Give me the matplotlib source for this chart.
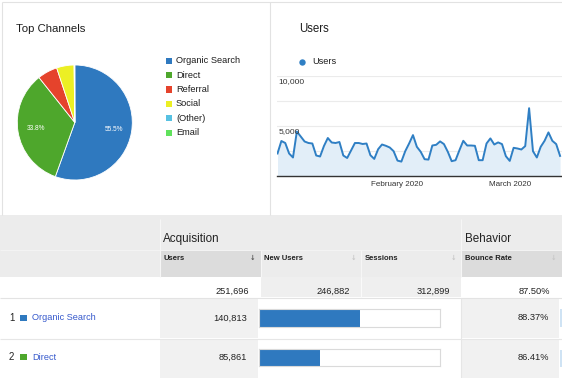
import matplotlib
matplotlib.use('Agg')
import matplotlib.pyplot as plt
import matplotlib.dates as mdates
from matplotlib.patches import Rectangle
import pandas as pd

plt.rcParams['font.family'] = ['Liberation Sans', 'DejaVu Sans']

W, H = 562, 378

# ---------------- data ----------------
channels = ['Organic Search', 'Direct', 'Referral', 'Social', '(Other)', 'Email']
channel_share = [55.5, 33.8, 5.6, 4.9, 0.15, 0.05]
channel_colors = ['#2f79bf', '#4ea72c', '#e5432c', '#ecef24', '#57c1e2', '#60e25c']

start_date = '2020-01-01'
daily_users = [2250, 3500, 3300, 2250, 1850, 4450, 3950, 3450, 3300, 3250,
               2050, 1950, 3000, 3800, 3350, 3300, 3400, 2050, 1800, 2550,
               3300, 3300, 3200, 3250, 2080, 1710, 2680, 3150, 3020, 2850,
               2480, 1540, 1440, 2480, 3250, 4090, 2920, 2420, 1680, 1640,
               3050, 3120, 3460, 3190, 2420, 1480, 1580, 2580, 3520, 3050,
               3050, 3020, 1580, 1580, 3250, 3760, 3150, 3360, 3190, 1980,
               1510, 2820, 2750, 2650, 2990, 6780, 2480, 1850, 2920, 3520,
               4360, 3520, 3190, 2010]
y_ticks = [0, 2500, 5000, 7500, 10000]
y_tick_labels = {5000: '5,000', 10000: '10,000'}
x_tick_dates = ['2020-02-01', '2020-03-01']

table_groups = ['Acquisition', 'Behavior']
table_columns = ['Users', 'New Users', 'Sessions', 'Bounce Rate']
table_totals = ['251,696', '246,882', '312,899', '87.50%']
row_channels = ['Organic Search', 'Direct']
row_users = [140813, 85861]
row_new_users_pct = [55.7, 33.6]
row_bounce = [88.37, 86.41]

# ---------------- figure ----------------
fig = plt.figure(figsize=(W / 100, H / 100), dpi=100)
fig.patch.set_facecolor('white')


def fa(x0, y0, x1, y1):
    return [x0 / W, 1 - y1 / H, (x1 - x0) / W, (y1 - y0) / H]


bg = fig.add_axes([0, 0, 1, 1], zorder=0)
bg.set_xlim(0, W)
bg.set_ylim(H, 0)
bg.axis('off')


def rect(x0, y0, x1, y1, color):
    bg.add_patch(Rectangle((x0, y0), x1 - x0, y1 - y0, facecolor=color, lw=0))


def hline(y, x0, x1, color, lw=0.8):
    bg.plot([x0, x1], [y, y], color=color, lw=lw, solid_capstyle='butt')


def vline(x, y0, y1, color, lw=0.8):
    bg.plot([x, x], [y0, y1], color=color, lw=lw, solid_capstyle='butt')


TXT = '#222222'

# top panels borders
border = '#e2e2e2'
hline(1.5, 1.5, W, border)
vline(1.5, 1.5, 215, border)
vline(270, 1.5, 215, border)
rect(0, 215, W, 218.5, '#ececec')

bg.text(16, 29, 'Top Channels', fontsize=8.2, color='#1e1e1e', va='center', ha='left')
bg.text(299, 29, 'Users', fontsize=8.3, color='#1e1e1e', va='center', ha='left')

# ---------------- pie ----------------
pax = fig.add_axes(fa(17.3, 65, 132.3, 180))
pax.pie(channel_share, colors=channel_colors, startangle=90, counterclock=False,
        wedgeprops=dict(edgecolor='white', linewidth=0.6),
        autopct=lambda p: f'{p:.1f}%' if p > 10 else '', pctdistance=0.69,
        textprops=dict(color='white', fontsize=4.7))
pax.set_xlim(-1, 1)
pax.set_ylim(-1, 1)
pax.set_aspect('equal')

for i, (name, col) in enumerate(zip(channels, channel_colors)):
    yy = 60.7 + 14.4 * i
    bg.add_patch(Rectangle((165.7, yy - 3.1), 6.2, 6.2, facecolor=col, lw=0))
    bg.text(176, yy, name, fontsize=6.7, color='#1e1e1e', va='center', ha='left')

# ---------------- line chart ----------------
dates = pd.date_range(start_date, periods=len(daily_users))
lax = fig.add_axes(fa(277, 76, 562, 176))
lax.patch.set_alpha(0)
lax.fill_between(dates, daily_users, color='#e2eef8', lw=0)
lax.plot(dates, daily_users, color='#2f7fc4', lw=1.4)
lax.set_xlim(dates[0] - pd.Timedelta(days=0.13), dates[0] + pd.Timedelta(days=73.5))
lax.set_ylim(0, 10000)
lax.set_yticks(y_ticks)
lax.set_yticklabels([])
lax.tick_params(axis='y', length=0)
lax.grid(axis='y', color='#ebebeb', lw=0.8)
lax.set_axisbelow(True)
for s in ['top', 'left', 'right']:
    lax.spines[s].set_visible(False)
lax.spines['bottom'].set_color('#333333')
lax.spines['bottom'].set_linewidth(1.0)
lax.set_xticks(pd.to_datetime(x_tick_dates))
lax.xaxis.set_major_formatter(mdates.DateFormatter('%B %Y'))
lax.tick_params(axis='x', length=0, pad=3.5, labelsize=5.8, labelcolor='#333333')
for v, lab in y_tick_labels.items():
    lax.text(0.005, v - 180, lab, transform=lax.get_yaxis_transform(), va='top',
             ha='left', fontsize=6.1, color='#333333')

bg.plot([302], [62], 'o', color='#2f7fc4', ms=4.6, mec='none')
bg.text(312, 62, 'Users', fontsize=6.6, color='#1e1e1e', va='center', ha='left')

# ---------------- table ----------------
col_x = [160, 260.5, 361, 461, W]
HDR = '#ececec'
HDR_SORT = '#dcdcdc'
CELL = '#f1f1f1'

rect(0, 218.5, W, 250, HDR)
rect(0, 250, W, 277, HDR)
rect(col_x[0], 250, col_x[1], 277, HDR_SORT)
rect(col_x[3], 250, W, 277, HDR_SORT)
hline(250, 0, W, '#f4f4f4', lw=0.7)
for x in [col_x[0], col_x[3]]:
    vline(x, 218.5, 277, '#f6f6f6', lw=0.8)
for x in [col_x[1], col_x[2]]:
    vline(x, 250, 277, '#f6f6f6', lw=0.8)

rect(col_x[1], 277, col_x[3], 297, '#efefef')
vline(col_x[2], 277, 297, '#fafafa', lw=0.8)

row_top = [298, 339]
row_bot = [338, 378]
for r in range(2):
    rect(col_x[0], row_top[r], 258, row_bot[r], CELL)
    rect(col_x[3], row_top[r], 558.5, row_bot[r], CELL)
    rect(559.5, row_top[r] + 11, W, row_bot[r] - 11, '#cfe3f4')
hline(297.5, 0, W, '#e3e3e3', lw=0.8)
hline(338.5, 0, W, '#e6e6e6', lw=0.8)
vline(col_x[3], 297.5, H, '#e6e6e6', lw=0.8)

bg.text(163, 239, table_groups[0], fontsize=8.4, color=TXT, va='center', ha='left')
bg.text(465, 239, table_groups[1], fontsize=8.4, color=TXT, va='center', ha='left')

hdr_text_x = [164, 264, 365, 465]
arrow_x = [252.5, 353, 453, 553.5]
for i, name in enumerate(table_columns):
    bg.text(hdr_text_x[i], 258, name, fontsize=5.5, fontweight='bold', color=TXT,
            va='center', ha='left')
    bg.text(arrow_x[i], 258, '↓', fontsize=4.8, fontweight='bold',
            color='#555555' if i == 0 else '#c6c6c6', va='center', ha='center',
            family=['DejaVu Sans'])

tot_right = [249.5, 350, 450, 550.3]
for i, t in enumerate(table_totals):
    bg.text(tot_right[i], 291, t, fontsize=6.7, color=TXT, va='center', ha='right')

row_y = [318, 357]
for r in range(2):
    yy = row_y[r]
    bg.text(9, yy, str(r + 1), fontsize=6.9, color=TXT, va='center', ha='left')
    ci = channels.index(row_channels[r])
    bg.add_patch(Rectangle((20, yy - 3.3), 6.6, 6.6, facecolor=channel_colors[ci], lw=0))
    bg.text(32, yy, row_channels[r], fontsize=6.6, color='#3659cc', va='center', ha='left')
    bg.text(246.7, yy, f'{row_users[r]:,}', fontsize=6.7, color=TXT, va='center', ha='right')
    bg.text(548.7, yy, f'{row_bounce[r]:.2f}%', fontsize=6.7, color=TXT, va='center', ha='right')

bar_boxes = [(309.3, 326.7), (349.3, 365.7)]
for r in range(2):
    y0, y1 = bar_boxes[r]
    bax = fig.add_axes(fa(259, y0, 440.3, y1))
    bax.barh([0], [row_new_users_pct[r]], height=1.0, color='#2f79bf', lw=0)
    bax.set_xlim(0, 100)
    bax.set_ylim(-0.5, 0.5)
    bax.set_xticks([])
    bax.set_yticks([])
    bax.set_facecolor('white')
    for s in bax.spines.values():
        s.set_color('#dadada')
        s.set_linewidth(0.8)

fig.savefig('out.png', dpi=100, facecolor='white')
